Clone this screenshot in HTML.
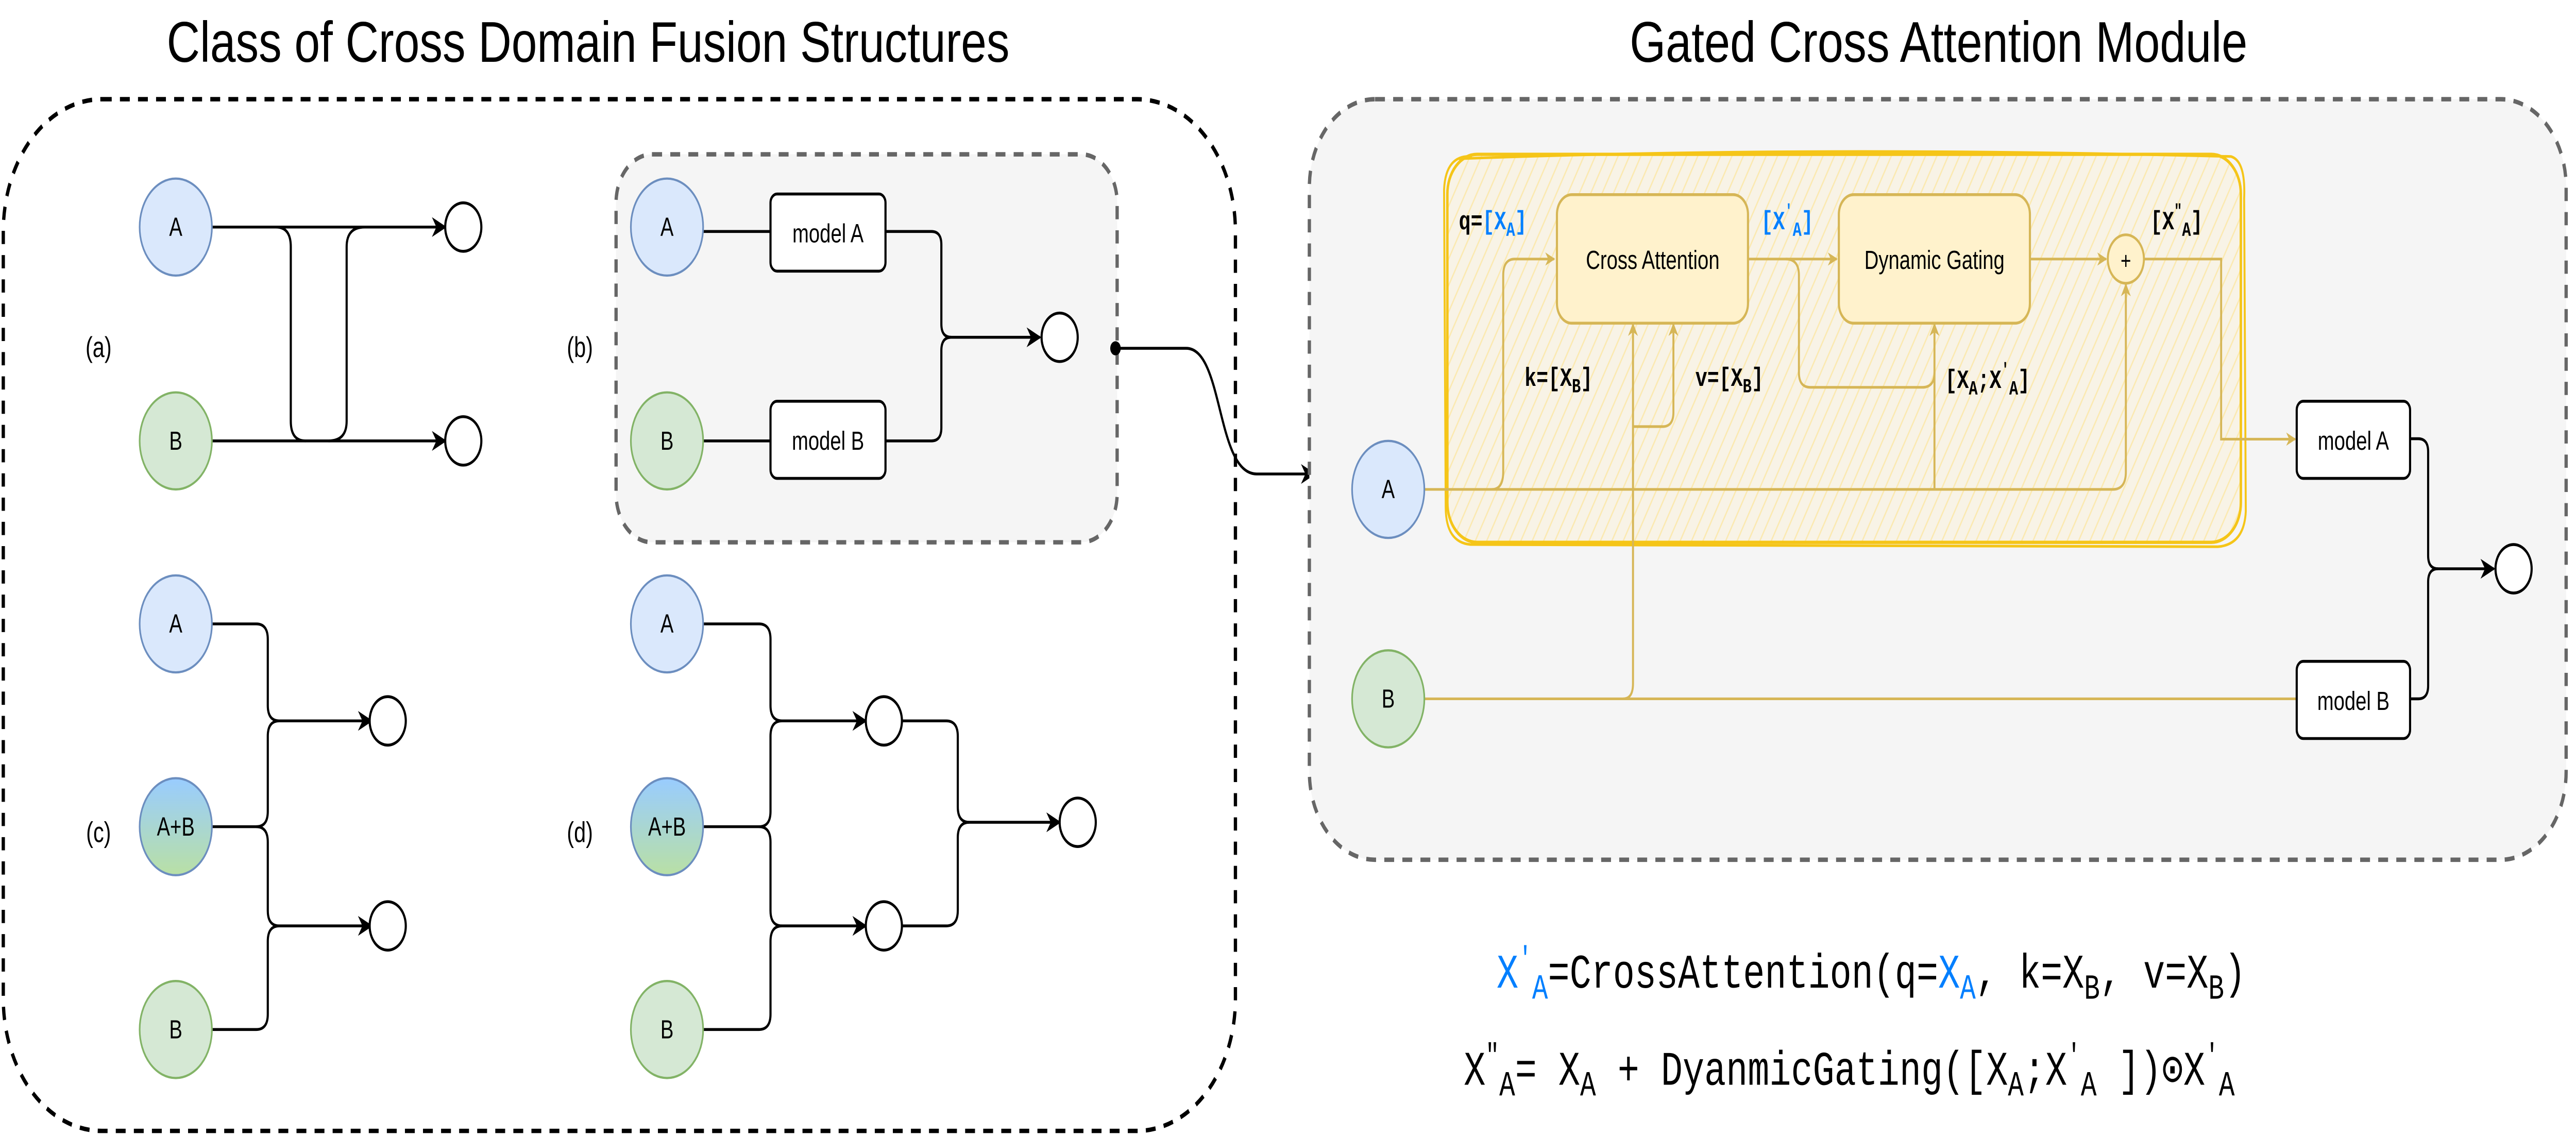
<!DOCTYPE html>
<html><head><meta charset="utf-8"><style>html,body{margin:0;padding:0;background:#fff;width:100%;height:100%;overflow:hidden}svg{display:block;position:fixed;left:0;top:0;width:100vw;height:100vh}</style></head>
<body>
<svg xmlns="http://www.w3.org/2000/svg" viewBox="0 0 1568 515.3" preserveAspectRatio="none" font-family="Liberation Sans, sans-serif">
<defs>
<marker id="ay" viewBox="0 0 10 10" refX="9" refY="5" markerWidth="6" markerHeight="6" orient="auto" markerUnits="userSpaceOnUse"><path d="M0,0 L10,5 L0,10 L3,5 Z" fill="#d6b656"/></marker>
<marker id="abig" viewBox="0 0 10 10" refX="9" refY="5" markerWidth="9" markerHeight="9" orient="auto" markerUnits="userSpaceOnUse"><path d="M0,0 L10,5 L0,10 L3,5 Z" fill="#000"/></marker>
<linearGradient id="gab" x1="0" y1="0" x2="0" y2="1"><stop offset="0" stop-color="#99ccff"/><stop offset="1" stop-color="#b9e0a5"/></linearGradient>
<pattern id="hatch" width="6" height="6" patternUnits="userSpaceOnUse" patternTransform="rotate(30)"><rect width="6" height="6" fill="#f8f3e6"/><line x1="0" y1="0" x2="0" y2="6" stroke="#fbe9b0" stroke-width="1.5"/></pattern>
</defs>

<text x="358" y="28" font-size="26" text-anchor="middle" textLength="513" lengthAdjust="spacingAndGlyphs">Class of Cross Domain Fusion Structures</text>
<text x="1180" y="28" font-size="26" text-anchor="middle" textLength="376" lengthAdjust="spacingAndGlyphs">Gated Cross Attention Module</text>

<rect x="2" y="45" width="750" height="468" rx="60" fill="none" stroke="#000" stroke-width="2" stroke-dasharray="6 5"/>

<g stroke-width="1.3" fill="none" stroke="#000">
<path d="M129,103 H271" marker-end="url(#abig)"/>
<path d="M129,200 H271" marker-end="url(#abig)"/>
<path d="M168,103 Q177,103 177,112 V191 Q177,200 186,200"/>
<path d="M222,103 Q211,103 211,112 V191 Q211,200 200,200"/>
<path d="M129,283 H156 Q163,283 163,290 V320 Q163,327 170,327 H226" marker-end="url(#abig)"/>
<path d="M129,375 H156 Q163,375 163,368 V334 Q163,327 170,327"/>
<path d="M156,375 Q163,375 163,382 V413 Q163,420 170,420 H226" marker-end="url(#abig)"/>
<path d="M129,467 H156 Q163,467 163,460 V427 Q163,420 170,420"/>
<path d="M428,283 H462 Q469,283 469,290 V320 Q469,327 476,327 H527" marker-end="url(#abig)"/>
<path d="M428,375 H462 Q469,375 469,368 V334 Q469,327 476,327"/>
<path d="M462,375 Q469,375 469,382 V413 Q469,420 476,420 H527" marker-end="url(#abig)"/>
<path d="M428,467 H462 Q469,467 469,460 V427 Q469,420 476,420"/>
<path d="M549,327 H576 Q583,327 583,334 V366 Q583,373 590,373 H645" marker-end="url(#abig)"/>
<path d="M549,420 H576 Q583,420 583,413 V380 Q583,373 590,373"/>
</g>

<rect x="375" y="70" width="305" height="176" rx="22" fill="#f5f5f5" stroke="#666" stroke-width="2" stroke-dasharray="6 5"/>
<g stroke-width="1.3" fill="none" stroke="#000">
<path d="M428,105 H469"/><path d="M428,200 H469"/>
<path d="M539,105 H567 Q573,105 573,111 V147 Q573,153 579,153 H633" marker-end="url(#abig)"/>
<path d="M539,200 H567 Q573,200 573,194 V159 Q573,153 579,153"/>
</g>
<rect x="469" y="88" width="70" height="35" rx="4" fill="#fff" stroke="#000" stroke-width="1.3"/>
<rect x="469" y="182" width="70" height="35" rx="4" fill="#fff" stroke="#000" stroke-width="1.3"/>
<text x="504" y="110" font-size="12" text-anchor="middle">model A</text>
<text x="504" y="204" font-size="12" text-anchor="middle">model B</text>

<g stroke-width="1">
<circle cx="107" cy="103" r="22" fill="#dae8fc" stroke="#6c8ebf"/>
<circle cx="107" cy="200" r="22" fill="#d5e8d4" stroke="#82b366"/>
<circle cx="406" cy="103" r="22" fill="#dae8fc" stroke="#6c8ebf"/>
<circle cx="406" cy="200" r="22" fill="#d5e8d4" stroke="#82b366"/>
<circle cx="107" cy="283" r="22" fill="#dae8fc" stroke="#6c8ebf"/>
<circle cx="107" cy="375" r="22" fill="url(#gab)" stroke="#6c8ebf"/>
<circle cx="107" cy="467" r="22" fill="#d5e8d4" stroke="#82b366"/>
<circle cx="406" cy="283" r="22" fill="#dae8fc" stroke="#6c8ebf"/>
<circle cx="406" cy="375" r="22" fill="url(#gab)" stroke="#6c8ebf"/>
<circle cx="406" cy="467" r="22" fill="#d5e8d4" stroke="#82b366"/>
</g>
<g fill="#fff" stroke="#000" stroke-width="1.3">
<circle cx="282" cy="103" r="11"/><circle cx="282" cy="200" r="11"/>
<circle cx="645" cy="153" r="11"/>
<circle cx="236" cy="327" r="11"/><circle cx="236" cy="420" r="11"/>
<circle cx="538" cy="327" r="11"/><circle cx="538" cy="420" r="11"/>
<circle cx="656" cy="373" r="11"/>
</g>
<g font-size="12" text-anchor="middle">
<text x="107" y="107">A</text><text x="107" y="204">B</text>
<text x="406" y="107">A</text><text x="406" y="204">B</text>
<text x="107" y="287">A</text><text x="107" y="379">A+B</text><text x="107" y="471">B</text>
<text x="406" y="287">A</text><text x="406" y="379">A+B</text><text x="406" y="471">B</text>
<text x="60" y="162" font-size="13">(a)</text><text x="353" y="162" font-size="13">(b)</text>
<text x="60" y="382" font-size="13">(c)</text><text x="353" y="382" font-size="13">(d)</text>
</g>

<circle cx="679" cy="158" r="3.2" fill="#000"/>
<path d="M679,158 H722 C745,158 740,215 765,215 H800" fill="none" stroke="#000" stroke-width="1.3" marker-end="url(#abig)"/>

<rect x="797" y="45" width="765" height="345" rx="40" fill="#f5f5f5" stroke="#666" stroke-width="2" stroke-dasharray="6 5"/>

<rect x="881" y="70" width="483" height="176" rx="18" fill="url(#hatch)" stroke="#f5c518" stroke-width="1.5"/>
<path d="M888,72 Q1100,66 1358,71 Q1367,73 1366,90 L1367,232 Q1366,247 1350,248 L895,247 Q880,246 880,230 L879,86 Q880,70 896,71" fill="none" stroke="#f5c518" stroke-width="1.2"/>

<g fill="none" stroke="#d6b656" stroke-width="1.2">
<path d="M867,222 H1286 Q1294,222 1294,214 V129" marker-end="url(#ay)"/>
<path d="M908,222 Q915,222 915,214 V125 Q915,117.5 922,117.5 H946" marker-end="url(#ay)"/>
<path d="M1177.5,222 V147" marker-end="url(#ay)"/>
<path d="M867,317 H1398"/>
<path d="M988,317 Q994,317 994,310 V147" marker-end="url(#ay)"/>
<path d="M994,193.5 H1012 Q1018.6,193.5 1018.6,187 V147" marker-end="url(#ay)"/>
<path d="M1064,117.5 H1118" marker-end="url(#ay)"/>
<path d="M1087,117.5 Q1095,117.5 1095,125 V169 Q1095,175.7 1102,175.7 H1170 Q1177.5,175.7 1177.5,169"/>
<path d="M1235.6,117.5 H1282" marker-end="url(#ay)"/>
<path d="M1305,117.5 H1352 V199.2 H1397" marker-end="url(#ay)"/>
</g>
<rect x="947.7" y="88.3" width="116.3" height="58.3" rx="9" fill="#fff2cc" stroke="#d6b656" stroke-width="1.3"/>
<rect x="1119.3" y="88.3" width="116.3" height="58.3" rx="9" fill="#fff2cc" stroke="#d6b656" stroke-width="1.3"/>
<circle cx="1294" cy="117.5" r="11" fill="#fff2cc" stroke="#d6b656" stroke-width="1.2"/>
<text x="1006" y="122" font-size="12" text-anchor="middle">Cross Attention</text>
<text x="1177.5" y="122" font-size="12" text-anchor="middle">Dynamic Gating</text>
<text x="1294" y="122" font-size="11" text-anchor="middle">+</text>

<g fill="none" stroke="#000" stroke-width="1.3">
<path d="M1467,199 H1472 Q1478,199 1478,205 V252 Q1478,258 1484,258 H1518" marker-end="url(#abig)"/>
<path d="M1467,317 H1472 Q1478,317 1478,311 V264 Q1478,258 1484,258"/>
</g>
<rect x="1398" y="182" width="69" height="35" rx="4" fill="#fff" stroke="#000" stroke-width="1.3"/>
<rect x="1398" y="300" width="69" height="35" rx="4" fill="#fff" stroke="#000" stroke-width="1.3"/>
<text x="1432.5" y="204" font-size="12" text-anchor="middle">model A</text>
<text x="1432.5" y="322" font-size="12" text-anchor="middle">model B</text>
<circle cx="1530" cy="258" r="11" fill="#fff" stroke="#000" stroke-width="1.3"/>
<circle cx="845" cy="222" r="22" fill="#dae8fc" stroke="#6c8ebf"/>
<circle cx="845" cy="317" r="22" fill="#d5e8d4" stroke="#82b366"/>
<text x="845" y="226" font-size="12" text-anchor="middle">A</text>
<text x="845" y="321" font-size="12" text-anchor="middle">B</text>

<g font-family="Liberation Mono, monospace" font-weight="bold" font-size="12">
<text x="888" y="104">q=<tspan fill="#007fff">[X<tspan dy="3" font-size="9">A</tspan><tspan dy="-3">]</tspan></tspan></text>
<text x="1072" y="104" fill="#007fff">[X<tspan dy="-6" font-size="8">'</tspan><tspan dy="9" font-size="9">A</tspan><tspan dy="-3">]</tspan></text>
<text x="928" y="175">k=[X<tspan dy="3" font-size="9">B</tspan><tspan dy="-3">]</tspan></text>
<text x="1032" y="175">v=[X<tspan dy="3" font-size="9">B</tspan><tspan dy="-3">]</tspan></text>
<text x="1184" y="176">[X<tspan dy="3" font-size="9">A</tspan><tspan dy="-3">;X</tspan><tspan dy="-6" font-size="8">'</tspan><tspan dy="9" font-size="9">A</tspan><tspan dy="-3">]</tspan></text>
<text x="1309" y="104">[X<tspan dy="-6" font-size="8">"</tspan><tspan dy="9" font-size="9">A</tspan><tspan dy="-3">]</tspan></text>
</g>

<g font-family="Liberation Mono, monospace" font-size="22">
<text x="911" y="448"><tspan fill="#007fff">X<tspan dy="-9" font-size="14">'</tspan><tspan dy="14" font-size="16">A</tspan></tspan><tspan dy="-5">=CrossAttention(q=</tspan><tspan fill="#007fff">X<tspan dy="5" font-size="16">A</tspan></tspan><tspan dy="-5">, k=X</tspan><tspan dy="5" font-size="16">B</tspan><tspan dy="-5">, v=X</tspan><tspan dy="5" font-size="16">B</tspan><tspan dy="-5">)</tspan></text>
<text x="891" y="492">X<tspan dy="-9" font-size="14">"</tspan><tspan dy="14" font-size="16">A</tspan><tspan dy="-5">= X</tspan><tspan dy="5" font-size="16">A</tspan><tspan dy="-5"> + DyanmicGating([X</tspan><tspan dy="5" font-size="16">A</tspan><tspan dy="-5">;X</tspan><tspan dy="-9" font-size="14">'</tspan><tspan dy="14" font-size="16">A</tspan><tspan dy="-5"> ])⊙X</tspan><tspan dy="-9" font-size="14">'</tspan><tspan dy="14" font-size="16">A</tspan></text>
</g>
</svg>
</body></html>
